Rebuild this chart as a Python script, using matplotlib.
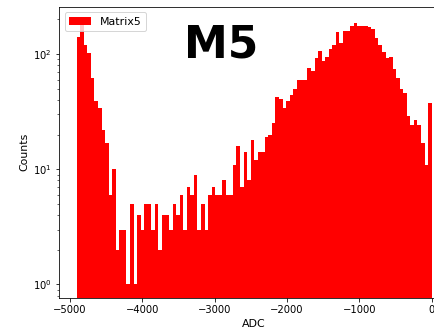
import numpy as np
import matplotlib
matplotlib.use('Agg')
import matplotlib.pyplot as plt

# ADC range covered by the histogram and number of bins
adc_lo = -4907
adc_hi = 0
n_bins = 100

# counts per bin, left to right
counts = [140, 198, 119, 102, 62, 39, 34, 22, 17, 6,
          10, 2, 3, 3, 1, 5, 1, 4, 3, 5,
          5, 3, 5, 2, 4, 4, 3, 5, 4, 6,
          3, 7, 6, 9, 3, 5, 3, 6, 7, 6,
          6, 8, 6, 6, 11, 16, 7, 14, 8, 18,
          12, 14, 14, 19, 20, 25, 42, 41, 34, 39,
          44, 50, 59, 60, 60, 75, 71, 92, 107, 87,
          95, 111, 120, 157, 126, 160, 160, 176, 185, 174,
          176, 174, 172, 166, 138, 120, 105, 92, 95, 74,
          62, 50, 46, 29, 24, 27, 24, 17, 11, 38]

edges = np.linspace(adc_lo, adc_hi, n_bins + 1)

fig = plt.figure(figsize=(434 / 72, 333 / 72), dpi=72)
ax = fig.add_axes([59 / 434, 35.3 / 333, 390.4 / 434, 291 / 333])

ax.hist(edges[:-1], bins=edges, weights=counts, color='red', log=True, label='Matrix5')
ax.set_xlabel('ADC', fontsize=11)
ax.set_ylabel('Counts', fontsize=11)
ax.legend(loc='upper left', fontsize=11)

fig.text(221 / 434, 1 - 58 / 333, 'M5', ha='center', va='baseline',
         fontsize=44, fontweight='bold')

fig.savefig('out.png', dpi=72)
